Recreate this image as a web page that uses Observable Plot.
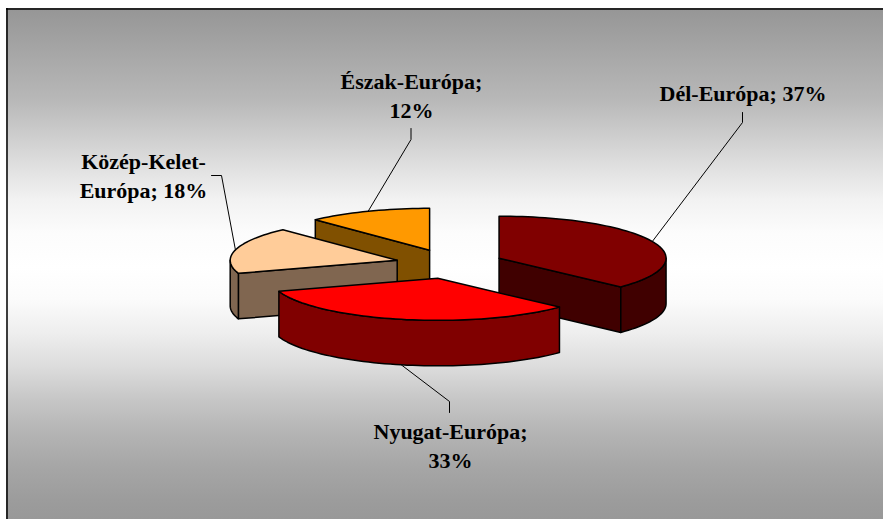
<!DOCTYPE html>
<html lang="hu">
<head>
<meta charset="utf-8">
<title>Európa</title>
<style>html,body{margin:0;padding:0;background:#fff;overflow:hidden}</style>
<script src="https://cdn.jsdelivr.net/npm/d3@7"></script>
<script src="https://cdn.jsdelivr.net/npm/@observablehq/plot@0.6"></script>
</head>
<body>
<script>
// Data
const regions = ["Dél-Európa", "Nyugat-Európa", "Közép-Kelet-Európa", "Észak-Európa"];
const shares = [37, 33, 18, 12];
const labels = ["Dél-Európa; 37%", "Nyugat-Európa;\n33%", "Közép-Kelet-\nEurópa; 18%", "Észak-Európa;\n12%"];

// Styles and placement
const topColors = ["#800000", "#ff0000", "#ffcc99", "#ff9900"];
const sideColors = ["#400000", "#800000", "#806650", "#805000"];
const labelAt = [[742.5, 91], [450, 444], [143, 174], [411, 94]];
const elbowPoints = [[[742, 122], [742, 112]], [[449, 401], [449, 412]], [[221, 175], [211, 175]], [[410.5, 139], [410.5, 128]]];
const backgroundStops = [[9, 0x96], [100, 0xb8], [167, 0xe0], [200, 0xf2], [233, 0xfc], [267, 0xff], [300, 0xfb], [333, 0xee], [367, 0xdc], [400, 0xc6], [433, 0xb4], [467, 0xa6], [500, 0x9c], [519, 0x98]];

// Pie geometry in the tilted view
const W = 883, H = 519;
const center = [449, 263.5], rx = 167, ry = 42, depth = 45.5, pullX = 54, pullY = 14.7;
const total = d3.sum(shares);
const rad = d => d * Math.PI / 180;
let run = 0;
const slices = shares.map((v, i) => {
  const a0 = run / total * 360; run += v; const a1 = run / total * 360; const mid = (a0 + a1) / 2;
  const cx = center[0] + pullX * Math.sin(rad(mid));
  const cy = center[1] - pullY * Math.cos(rad(mid));
  const at = (a, dz = 0) => [cx + rx * Math.sin(rad(a)), cy - ry * Math.cos(rad(a)) + dz];
  return {i, a0, a1, mid, cx, cy, at};
});
const arc = (s, a0, a1, dz = 0) => {
  const n = Math.max(2, Math.ceil(Math.abs(a1 - a0) / 2));
  return d3.range(n + 1).map(k => s.at(a0 + (a1 - a0) * k / n, dz));
};
const sideWall = (s, a) => [[s.cx, s.cy], s.at(a), s.at(a, depth), [s.cx, s.cy + depth]];
const outerWall = (s, a0, a1) => [...arc(s, a0, a1), ...arc(s, a1, a0, depth)];
const topFace = s => [[s.cx, s.cy], ...arc(s, s.a0, s.a1)];

const poly = (pts, fill) => Plot.line(pts, {fill, stroke: "#000", strokeWidth: 1.5, curve: "linear-closed", strokeLinejoin: "round"});
const [del, nyu, koz, esz] = slices;
const faces = [
  poly(sideWall(esz, esz.a0), sideColors[3]),
  poly(topFace(esz), topColors[3]),
  poly(sideWall(koz, koz.a0), sideColors[2]),
  poly(outerWall(koz, koz.a0, 270), sideColors[2]),
  poly(topFace(koz), topColors[2]),
  poly(sideWall(del, del.a1), sideColors[0]),
  poly(outerWall(del, 90, del.a1), sideColors[0]),
  poly(topFace(del), topColors[0]),
  poly(outerWall(nyu, nyu.a0, nyu.a1), sideColors[1]),
  poly(topFace(nyu), topColors[1])
];

const panelTop = 8;
const gradient = () => {
  const defs = d3.create("svg:defs");
  const g = defs.append("linearGradient").attr("id", "bg").attr("x1", 0).attr("x2", 0).attr("y1", 0).attr("y2", 1);
  backgroundStops.forEach(([y, v]) => g.append("stop").attr("offset", (y - panelTop) / (H - panelTop)).attr("stop-color", `rgb(${v},${v},${v})`));
  return defs.node();
};

const leaders = slices.map((s, i) => [s.at(s.mid, (s.mid > 90 && s.mid < 270) ? depth : 0), ...elbowPoints[i]]);

const chart = Plot.plot({
  width: W, height: H,
  margin: 0,
  x: {axis: null, domain: [0, W]},
  y: {axis: null, domain: [H, 0]},
  style: {background: "#fff", display: "block"},
  marks: [
    gradient,
    Plot.rect([0], {x1: 6, x2: W, y1: panelTop, y2: H, fill: "url(#bg)"}),
    Plot.ruleX([6.5], {y1: panelTop, y2: H, stroke: "#000", strokeWidth: 1.5}),
    Plot.ruleY([8.5], {x1: 6, x2: W, stroke: "#000", strokeWidth: 1.5}),
    ...leaders.map(l => Plot.line(l, {stroke: "#000", strokeWidth: 1})),
    ...faces,
    Plot.text(labels, {
      x: (d, i) => labelAt[i][0], y: (d, i) => labelAt[i][1], text: d => d,
      fontFamily: "'Liberation Serif'", fontWeight: "bold", fontSize: 22, lineHeight: 1.28, letterSpacing: -0.1,
      fill: "#000", textAnchor: "middle"
    })
  ]
});
document.body.append(chart);
</script>
</body>
</html>
